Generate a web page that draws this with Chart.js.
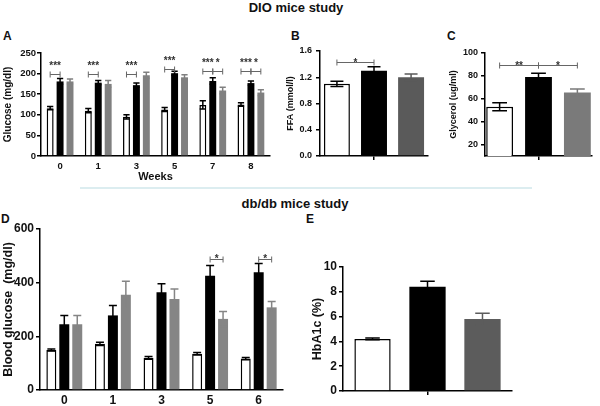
<!DOCTYPE html>
<html>
<head>
<meta charset="utf-8">
<script src="https://cdn.jsdelivr.net/npm/chart.js@4/dist/chart.umd.min.js"></script>
<style>
  html, body { margin: 0; padding: 0; background: #fff; }
  #wrap { position: relative; width: 600px; height: 406px; overflow: hidden; background: #fff;
          font-family: 'Liberation Sans', Arial, sans-serif; font-weight: bold; color: #111; }
  .t { position: absolute; white-space: nowrap; }
  canvas { position: absolute; }
</style>
</head>
<body>
<div id="wrap">
  <div class="t" style="left:196px;width:200px;text-align:center;top:0px;font-size:13px;line-height:15px;">DIO mice study</div>
  <div class="t" style="left:195px;width:200px;text-align:center;top:196px;font-size:13px;line-height:16px;">db/db mice study</div>
  <div class="t" style="left:3px;top:30px;font-size:12px;line-height:12px;">A</div>
  <div class="t" style="left:291px;top:30px;font-size:12px;line-height:12px;">B</div>
  <div class="t" style="left:447px;top:30px;font-size:12px;line-height:12px;">C</div>
  <div class="t" style="left:1px;top:213px;font-size:12px;line-height:12px;">D</div>
  <div class="t" style="left:306px;top:213px;font-size:12px;line-height:12px;">E</div>
  <div style="position:absolute;left:80px;top:187px;width:452px;height:2px;background:#dcedf0;"></div>
  <canvas id="cA" width="280" height="150" style="left:0px;top:40px;"></canvas>
  <canvas id="cB" width="150" height="150" style="left:280px;top:40px;"></canvas>
  <canvas id="cC" width="160" height="150" style="left:440px;top:40px;"></canvas>
  <canvas id="cD" width="300" height="196" style="left:0px;top:210px;"></canvas>
  <canvas id="cE" width="300" height="166" style="left:300px;top:240px;"></canvas>
</div>
<script>
// ---------------- DATA ----------------
// Panel A: DIO mice, glucose (mg/dl) by week
const WEEKS_A = ['0', '1', '3', '5', '7', '8'];
const A_CTRL = [116, 110, 95, 113, 124, 125];
const A_CTRL_ERR = [4, 5, 5, 5, 10, 4];
const A_DIO = [181, 178, 172, 201, 182, 177];
const A_DIO_ERR = [7, 5, 5, 5, 8, 5];
const A_TRT = [181, 175, 196, 191, 159, 154];
const A_TRT_ERR = [6, 8, 7, 6, 8, 7];
const A_TICKS = [0, 50, 100, 150, 200, 250];
// significance brackets: [category, fromSeries, toSeries, yValue, label]
const A_SIG = [[0,0,1,200,'***'],[1,0,1,200,'***'],[2,0,1,200,'***'],[3,0,1,211,'***'],
               [4,0,1,207,'***'],[4,1,2,207,'*'],[5,0,1,207,'***'],[5,1,2,207,'*']];

// Panel B: FFA (mmol/l)
const B_VALUES = [1.10, 1.30, 1.20];
const B_ERR = [0.04, 0.06, 0.05];
const B_TICKS = [0, 0.4, 0.8, 1.2, 1.6];
const B_SIG = [[0,0,1,1.44,'*']];

// Panel C: Glycerol (ug/ml)
const C_VALUES = [53, 79, 65.5];
const C_ERR = [3.5, 3.3, 3];
const C_TICKS = [20, 40, 60, 80, 100];
const C_SIG = [[0,0,1,89.6,'**'],[0,1,2,89.6,'*']];

// Panel D: db/db mice, blood glucose (mg/dl) by week
const WEEKS_D = ['0', '1', '3', '5', '6'];
const D_CTRL = [149, 172, 120, 135, 117];
const D_CTRL_ERR = [4, 6, 5, 5, 4];
const D_DB = [245, 278, 364, 426, 439];
const D_DB_ERR = [33, 37, 32, 38, 32];
const D_TRT = [245, 355, 339, 265, 308];
const D_TRT_ERR = [33, 50, 37, 28, 22];
const D_TICKS = [0, 200, 400, 600];
const D_SIG = [[3,1,2,488,'*'],[4,1,2,488,'*']];

// Panel E: HbA1c (%)
const E_VALUES = [4.2, 8.4, 5.8];
const E_ERR = [0.07, 0.46, 0.47];
const E_TICKS = [0, 2, 4, 6, 8, 10];

// ---------------- RENDERING ----------------
const FONT = "'Liberation Sans', Arial, sans-serif";
Chart.defaults.font.family = FONT;
Chart.defaults.font.weight = 'bold';
Chart.defaults.color = '#111';

const errPlugin = {
  id: 'errbars',
  afterDatasetsDraw(chart, args, o) {
    const ctx = chart.ctx, ys = chart.scales.y;
    ctx.save();
    ctx.lineWidth = o.lineWidth || 1.5;
    chart.data.datasets.forEach((ds, di) => {
      const meta = chart.getDatasetMeta(di);
      const errs = o.errors[di];
      meta.data.forEach((bar, i) => {
        const v = ds.data[i], e = errs[i];
        const yt = ys.getPixelForValue(v + e), yb = ys.getPixelForValue(v - e);
        const c = bar.width * o.capRatio / 2;
        ctx.strokeStyle = o.colors[di];
        ctx.beginPath();
        ctx.moveTo(bar.x, yt); ctx.lineTo(bar.x, yb);
        ctx.moveTo(bar.x - c, yt); ctx.lineTo(bar.x + c, yt);
        ctx.moveTo(bar.x - c, yb); ctx.lineTo(bar.x + c, yb);
        ctx.stroke();
      });
    });
    (o.brackets || []).forEach(([cat, a, b, val, label]) => {
      const x1 = chart.getDatasetMeta(a).data[cat].x;
      const x2 = chart.getDatasetMeta(b).data[cat].x;
      const yy = Math.round(ys.getPixelForValue(val)) + 0.5;
      ctx.strokeStyle = '#666';
      ctx.lineWidth = 1;
      ctx.beginPath();
      ctx.moveTo(x1, yy); ctx.lineTo(x2, yy);
      ctx.moveTo(x1, yy - 3); ctx.lineTo(x1, yy + 3);
      ctx.moveTo(x2, yy - 3); ctx.lineTo(x2, yy + 3);
      ctx.stroke();
      ctx.fillStyle = '#333';
      ctx.font = 'bold ' + o.starSize + 'px ' + FONT;
      ctx.textAlign = 'center';
      ctx.textBaseline = 'alphabetic';
      ctx.fillText(label, (x1 + x2) / 2, yy - o.starGap);
    });
    ctx.restore();
  }
};

function makeChart(id, p) {
  const ds = p.series.map((s, i) => ({
    data: s, backgroundColor: p.fills[i], borderColor: p.borders[i], borderWidth: p.borderW[i],
    borderSkipped: 'start', categoryPercentage: p.catPct, barPercentage: p.barPct
  }));
  return new Chart(document.getElementById(id), {
    type: 'bar',
    data: { labels: p.labels, datasets: ds },
    plugins: [errPlugin],
    options: {
      responsive: false, animation: false, devicePixelRatio: 1,
      layout: { padding: p.padding },
      plugins: {
        legend: { display: false }, tooltip: { enabled: false },
        errbars: { errors: p.errors, colors: p.errColors, capRatio: p.capRatio,
                   brackets: p.brackets, starSize: p.starSize, starGap: p.starGap }
      },
      scales: {
        x: {
          grid: { display: true, drawOnChartArea: false, drawTicks: p.xTicks, tickLength: 4,
                  offset: false, color: '#000', lineWidth: 1.5 },
          border: { display: true, color: '#000', width: 1.5 },
          ticks: { font: { size: p.tickSize, weight: 'bold' }, color: '#111', padding: p.xPad,
                   maxRotation: 0, autoSkip: false },
          title: p.xTitle ? { display: true, text: p.xTitle, font: { size: 11, weight: 'bold' },
                              color: '#111', padding: { top: 0, bottom: p.xTitlePad } } : { display: false },
          afterFit: s => { s.height = p.xHeight; }
        },
        y: {
          min: p.min, max: p.max,
          afterBuildTicks: s => { s.ticks = p.ticks.map(v => ({ value: v })); },
          grid: { display: true, drawOnChartArea: false, drawTicks: true, tickLength: 4,
                  color: '#000', lineWidth: 1.5 },
          border: { display: true, color: '#000', width: 1.5 },
          ticks: { font: { size: p.tickSize, weight: 'bold' }, color: '#111', padding: p.yPad,
                   callback: p.fmt || (v => String(v)) },
          title: { display: true, text: p.yTitle, font: { size: p.yTitleSize, weight: 'bold' },
                   color: '#111', padding: { top: p.yTitlePad, bottom: 0 } },
          afterFit: s => { s.width = p.yWidth; }
        }
      }
    }
  });
}

const WHITE = '#ffffff', BLACK = '#000000';

makeChart('cA', {
  labels: WEEKS_A, series: [A_CTRL, A_DIO, A_TRT], errors: [A_CTRL_ERR, A_DIO_ERR, A_TRT_ERR],
  fills: [WHITE, BLACK, '#808080'], borders: [BLACK, BLACK, '#808080'], borderW: [1.5, 0, 0],
  errColors: [BLACK, BLACK, '#808080'], catPct: 0.78, barPct: 0.7, capRatio: 0.9,
  padding: { left: 0, top: 13, right: 10, bottom: 0 },
  yWidth: 41, xHeight: 34, tickSize: 9.5, xPad: 5, yPad: 1, xTicks: false,
  min: 0, max: 250, ticks: A_TICKS, yTitle: 'Glucose (mg/dl)', yTitleSize: 10, yTitlePad: 2,
  xTitle: 'Weeks', xTitlePad: 6, brackets: A_SIG, starSize: 10, starGap: 6
});

makeChart('cB', {
  labels: [''], series: [[B_VALUES[0]], [B_VALUES[1]], [B_VALUES[2]]],
  errors: [[B_ERR[0]], [B_ERR[1]], [B_ERR[2]]],
  fills: [WHITE, BLACK, '#5a5a5a'], borders: [BLACK, BLACK, '#5a5a5a'], borderW: [1.5, 0, 0],
  errColors: [BLACK, BLACK, '#5a5a5a'], catPct: 1.03, barPct: 0.7, capRatio: 0.5,
  padding: { left: 0, top: 11, right: 2, bottom: 0 },
  yWidth: 40, xHeight: 34, tickSize: 9, xPad: 2, yPad: 4, xTicks: true,
  min: 0, max: 1.6, ticks: B_TICKS, fmt: v => v.toFixed(1),
  yTitle: 'FFA (mmol/l)', yTitleSize: 9, yTitlePad: 5, brackets: B_SIG, starSize: 10, starGap: -3
});

makeChart('cC', {
  labels: [''], series: [[C_VALUES[0]], [C_VALUES[1]], [C_VALUES[2]]],
  errors: [[C_ERR[0]], [C_ERR[1]], [C_ERR[2]]],
  fills: [WHITE, BLACK, '#7a7a7a'], borders: [BLACK, BLACK, '#7a7a7a'], borderW: [1.5, 0, 0],
  errColors: [BLACK, BLACK, '#7a7a7a'], catPct: 1.09, barPct: 0.69, capRatio: 0.55,
  padding: { left: 0, top: 13, right: 8, bottom: 0 },
  yWidth: 45, xHeight: 34, tickSize: 9, xPad: 2, yPad: 3, xTicks: true,
  min: 10, max: 100, ticks: C_TICKS,
  yTitle: 'Glycerol (ug/ml)', yTitleSize: 9, yTitlePad: 8, brackets: C_SIG, starSize: 10, starGap: -3
});

makeChart('cD', {
  labels: WEEKS_D, series: [D_CTRL, D_DB, D_TRT], errors: [D_CTRL_ERR, D_DB_ERR, D_TRT_ERR],
  fills: [WHITE, BLACK, '#858585'], borders: [BLACK, BLACK, '#858585'], borderW: [1.5, 0, 0],
  errColors: [BLACK, BLACK, '#858585'], catPct: 0.8, barPct: 0.77, capRatio: 0.8,
  padding: { left: 0, top: 19, right: 17, bottom: 0 },
  yWidth: 40, xHeight: 16, tickSize: 12, xPad: 3, yPad: 2, xTicks: false,
  min: 0, max: 600, ticks: D_TICKS,
  yTitle: 'Blood glucose  (mg/dl)', yTitleSize: 12.5, yTitlePad: 1, brackets: D_SIG, starSize: 10, starGap: -2
});

makeChart('cE', {
  labels: [''], series: [[E_VALUES[0]], [E_VALUES[1]], [E_VALUES[2]]],
  errors: [[E_ERR[0]], [E_ERR[1]], [E_ERR[2]]],
  fills: [WHITE, BLACK, '#5c5c5c'], borders: [BLACK, BLACK, '#5c5c5c'], borderW: [1.5, 0, 0],
  errColors: [BLACK, BLACK, '#5c5c5c'], catPct: 0.976, barPct: 0.66, capRatio: 0.4,
  padding: { left: 0, top: 27, right: 88, bottom: 0 },
  yWidth: 43, xHeight: 15, tickSize: 12, xPad: 2, yPad: 2, xTicks: true,
  min: 0, max: 10, ticks: E_TICKS,
  yTitle: 'HbA1c (%)', yTitleSize: 12.5, yTitlePad: 10, brackets: [], starSize: 10, starGap: 0
});
</script>
</body>
</html>
